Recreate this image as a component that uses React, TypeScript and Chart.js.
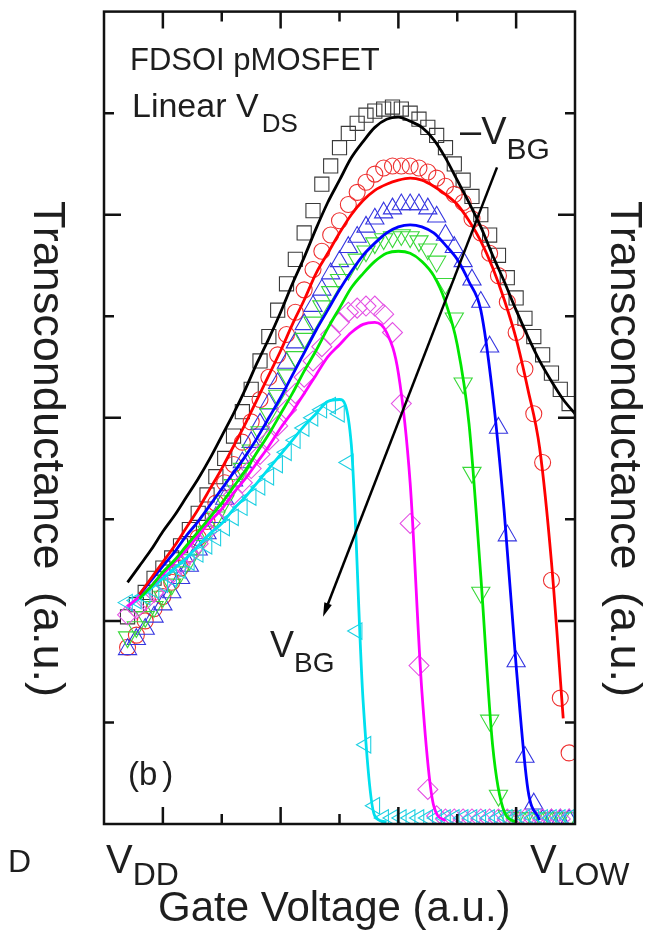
import React, { useEffect, useRef } from 'react';
import { Chart, registerables } from 'chart.js';

Chart.register(...registerables);

// Gate voltage positions (a.u.) of measured points and of model curves
const gateMarkers = [0.40,0.55,0.70,0.85,1.00,1.15,1.30,1.45,1.60,1.75,1.90,2.05,2.20,2.35,2.50,2.65,2.80,2.95,3.10,3.25,3.40,3.55,3.70,3.85,4.00,4.15,4.30,4.45,4.60,4.75,4.90,5.05,5.20,5.35,5.50,5.65,5.80,5.95,6.10,6.25,6.40,6.55,6.70,6.85,7.00,7.15,7.30,7.45,7.60,7.75,7.90];
const gateFit = [0.4,0.6,0.8,1.0,1.2,1.4,1.6,1.8,2.0,2.2,2.4,2.6,2.8,3.0,3.2,3.4,3.6,3.8,4.0,4.2,4.4,4.6,4.8,5.0,5.2,5.4,5.6,5.8,6.0,6.2,6.4,6.6,6.8,7.0,7.2,7.4,7.6,7.8,8.0];

// Measured transconductance (a.u.)
const blackSquares = [1.02,1.08,1.14,1.21,1.26,1.31,1.37,1.45,1.53,1.62,1.71,1.80,1.91,2.03,2.14,2.28,2.40,2.53,2.66,2.78,2.91,3.02,3.15,3.24,3.33,3.40,3.45,3.49,3.51,3.52,3.53,3.52,3.50,3.47,3.43,3.39,3.33,3.25,3.17,3.09,3.00,2.90,2.80,2.69,2.59,2.49,2.40,2.31,2.22,2.14,2.07];
const redCircles = [0.87,0.93,1.00,1.06,1.12,1.19,1.26,1.33,1.41,1.49,1.58,1.68,1.77,1.88,1.98,2.09,2.20,2.31,2.41,2.52,2.63,2.73,2.82,2.90,2.97,3.05,3.11,3.16,3.20,3.23,3.24,3.24,3.24,3.23,3.21,3.18,3.14,3.10,3.06,2.98,2.91,2.81,2.70,2.57,2.42,2.24,2.02,1.78,1.20,0.62,0.35];
const blueTriangles = [0.86,0.91,0.96,1.02,1.08,1.14,1.21,1.27,1.35,1.43,1.51,1.60,1.69,1.78,1.88,1.97,2.07,2.17,2.27,2.37,2.46,2.55,2.63,2.71,2.77,2.84,2.89,2.94,2.98,3.01,3.03,3.05,3.05,3.05,3.03,2.99,2.90,2.84,2.77,2.68,2.57,2.35,1.95,1.42,0.80,0.33,0.10,0.02,0.02,0.02,0.02];
const greenTriangles = [0.92,0.97,1.02,1.07,1.12,1.18,1.24,1.30,1.37,1.44,1.51,1.59,1.67,1.75,1.84,1.93,2.02,2.11,2.21,2.30,2.39,2.47,2.55,2.62,2.68,2.73,2.78,2.82,2.86,2.88,2.89,2.90,2.89,2.87,2.83,2.77,2.66,2.49,2.17,1.73,1.14,0.51,0.14,0.04,0.03,0.03,0.03,0.03,0.03,0.03,0.03];
const magentaDiamonds = [1.03,1.06,1.10,1.14,1.19,1.23,1.28,1.33,1.38,1.44,1.50,1.55,1.62,1.68,1.75,1.82,1.89,1.96,2.04,2.12,2.20,2.28,2.35,2.41,2.47,2.52,2.54,2.55,2.55,2.51,2.42,2.07,1.48,0.78,0.17,0.04,0.025,0.025,0.025,0.025,0.025,0.025,0.025,0.025,0.025,0.025,0.025,0.025,0.025,0.025,0.025];
const cyanTriangles = [1.09,1.10,1.12,1.15,1.18,1.21,1.25,1.29,1.33,1.37,1.41,1.46,1.51,1.56,1.61,1.66,1.71,1.77,1.83,1.89,1.95,2.00,2.04,2.06,2.02,1.78,0.95,0.39,0.09,0.03,0.03,0.03,0.03,0.03,0.03,0.03,0.03,0.03,0.03,0.03,0.03,0.03,0.03,0.03,0.03,0.03,0.03,0.03,0.03,0.03,0.03];

// Model fits (a.u.)
const blackFit = [1.19,1.27,1.35,1.44,1.52,1.61,1.70,1.80,1.91,2.02,2.14,2.27,2.39,2.52,2.66,2.79,2.93,3.06,3.17,3.28,3.36,3.43,3.47,3.48,3.46,3.43,3.37,3.28,3.17,3.06,2.94,2.80,2.67,2.53,2.40,2.28,2.18,2.09,2.02];
const redFit = [null,1.13,1.21,1.29,1.37,1.46,1.55,1.65,1.75,1.86,1.97,2.09,2.21,2.33,2.46,2.58,2.71,2.81,2.91,3.00,3.07,3.12,3.15,3.17,3.18,3.17,3.14,3.10,3.05,2.97,2.87,2.74,2.58,2.39,2.14,1.85,1.29,0.52,null];
const blueFit = [null,1.13,1.20,1.27,1.34,1.42,1.49,1.57,1.65,1.73,1.81,1.90,2.00,2.10,2.21,2.32,2.43,2.53,2.63,2.72,2.80,2.86,2.91,2.94,2.95,2.94,2.91,2.85,2.78,2.67,2.53,2.12,1.53,0.78,0.17,0.02,null,null,null];
const greenFit = [null,1.11,1.17,1.24,1.30,1.37,1.44,1.51,1.58,1.66,1.74,1.83,1.92,2.02,2.12,2.23,2.33,2.44,2.54,2.64,2.71,2.77,2.81,2.82,2.81,2.77,2.70,2.57,2.36,1.97,1.22,0.39,0.06,0.01,null,null,null,null,null];
const magentaFit = [1.07,1.12,1.17,1.23,1.29,1.35,1.42,1.49,1.55,1.63,1.70,1.78,1.86,1.95,2.03,2.12,2.21,2.30,2.36,2.42,2.46,2.47,2.42,2.22,1.68,0.65,0.09,0.015,null,null,null,null,null,null,null,null,null,null,null];
const cyanFit = [1.07,1.11,1.16,1.21,1.26,1.31,1.37,1.43,1.48,1.55,1.61,1.68,1.75,1.82,1.89,1.96,2.02,2.08,2.09,1.87,0.61,0.04,0.01,null,null,null,null,null,null,null,null,null,null,null,null,null,null,null,null];

// Axes
const xRange = [0, 8];
const yRange = [0, 4];
const xMajorTicks = [1, 3, 5, 7];
const xMinorTicks = [2, 4, 6];
const yMajorTicks = [1, 2, 3];
const yMinorTicks = [0.5, 1.5, 2.5, 3.5];
const xTickLabels = [
  { at: 0, main: 'V', sub: 'DD' },
  { at: 8, main: 'V', sub: 'LOW' },
];
// Back-gate arrow (from -VBG towards VBG), in data units
const arrowFrom = [6.675, 3.233];
const arrowTo = [3.72, 1.021];

const FONT = '"Liberation Sans", Arial, Helvetica, sans-serif';
const TEXT = '#1e1e1e';

function pts(xs: number[], ys: (number | null)[]) {
  return xs.map((x, i) => ({ x, y: ys[i] }));
}

function subText(ctx: CanvasRenderingContext2D, x: number, y: number, main: string, sub: string, mainPx: number, subPx: number, drop: number, gap = 0) {
  ctx.font = `${mainPx}px ${FONT}`;
  ctx.fillText(main, x, y);
  const w = ctx.measureText(main).width;
  ctx.font = `${subPx}px ${FONT}`;
  ctx.fillText(sub, x + w + gap, y + drop);
}

const overlay = {
  id: 'overlay',
  afterDatasetsDraw(chart: any) {
    const { ctx, chartArea: a, scales } = chart;
    const xs = scales.x;
    const ys = scales.y;
    ctx.save();

    // arrow
    const x1 = xs.getPixelForValue(arrowFrom[0]);
    const y1 = ys.getPixelForValue(arrowFrom[1]);
    const x2 = xs.getPixelForValue(arrowTo[0]);
    const y2 = ys.getPixelForValue(arrowTo[1]);
    const ang = Math.atan2(y2 - y1, x2 - x1);
    const headLen = 14;
    const headW = 4;
    ctx.strokeStyle = '#000';
    ctx.fillStyle = '#000';
    ctx.lineWidth = 2.5;
    ctx.beginPath();
    ctx.moveTo(x1, y1);
    ctx.lineTo(x2 - Math.cos(ang) * headLen * 0.8, y2 - Math.sin(ang) * headLen * 0.8);
    ctx.stroke();
    ctx.beginPath();
    ctx.moveTo(x2, y2);
    ctx.lineTo(x2 - Math.cos(ang) * headLen + Math.sin(ang) * headW, y2 - Math.sin(ang) * headLen - Math.cos(ang) * headW);
    ctx.lineTo(x2 - Math.cos(ang) * headLen - Math.sin(ang) * headW, y2 - Math.sin(ang) * headLen + Math.cos(ang) * headW);
    ctx.closePath();
    ctx.fill();

    // frame
    ctx.strokeStyle = '#111';
    ctx.lineWidth = 2.5;
    ctx.strokeRect(a.left, a.top, a.right - a.left, a.bottom - a.top);

    // ticks (inside, on all four sides)
    const major = 17;
    const minor = 10;
    ctx.beginPath();
    xMajorTicks.forEach((v) => {
      const p = xs.getPixelForValue(v);
      ctx.moveTo(p, a.bottom); ctx.lineTo(p, a.bottom - major);
      ctx.moveTo(p, a.top); ctx.lineTo(p, a.top + major);
    });
    xMinorTicks.forEach((v) => {
      const p = xs.getPixelForValue(v);
      ctx.moveTo(p, a.bottom); ctx.lineTo(p, a.bottom - minor);
      ctx.moveTo(p, a.top); ctx.lineTo(p, a.top + minor);
    });
    yMajorTicks.forEach((v) => {
      const p = ys.getPixelForValue(v);
      ctx.moveTo(a.left, p); ctx.lineTo(a.left + major, p);
      ctx.moveTo(a.right, p); ctx.lineTo(a.right - major, p);
    });
    yMinorTicks.forEach((v) => {
      const p = ys.getPixelForValue(v);
      ctx.moveTo(a.left, p); ctx.lineTo(a.left + minor, p);
      ctx.moveTo(a.right, p); ctx.lineTo(a.right - minor, p);
    });
    ctx.stroke();

    // texts inside the plot
    ctx.fillStyle = TEXT;
    ctx.textAlign = 'left';
    ctx.textBaseline = 'alphabetic';
    ctx.font = `31px ${FONT}`;
    ctx.fillText('FDSOI pMOSFET', a.left + 26, a.top + 58);
    subText(ctx, a.left + 28, a.top + 105, 'Linear V', 'DS', 34, 26, 15, 3);
    subText(ctx, a.left + 356, a.top + 132, '\u2013V', 'BG', 38, 30, 15);
    subText(ctx, a.left + 166, a.top + 645, 'V', 'BG', 36, 28, 15);
    ctx.font = `33px ${FONT}`;
    ctx.fillText('(b', a.left + 24, a.top + 773);
    const bw = ctx.measureText('(b').width;
    ctx.fillText(')', a.left + 24 + bw + 5, a.top + 773);

    // x tick labels
    xTickLabels.forEach((t, i) => {
      const p = xs.getPixelForValue(t.at);
      const x = i === 0 ? p + 2 : p - 45;
      subText(ctx, x, a.bottom + 49, t.main, t.sub, 40, 32, 12);
    });

    // neighbour panel fragment
    ctx.font = `32px ${FONT}`;
    ctx.fillText('D', 8, a.bottom + 48);

    // axis titles
    ctx.font = `42px ${FONT}`;
    ctx.fillText('Gate Voltage (a.u.)', 158, 921);

    ctx.font = `45px ${FONT}`;
    ctx.textAlign = 'center';
    const yTitle = 'Transconductance\u2002(a.u.)';
    ctx.save();
    ctx.translate(34, 449);
    ctx.rotate(Math.PI / 2);
    ctx.fillText(yTitle, 0, 0);
    ctx.restore();
    ctx.save();
    ctx.translate(611, 449);
    ctx.rotate(Math.PI / 2);
    ctx.fillText(yTitle, 0, 0);
    ctx.restore();

    ctx.restore();
  },
};

export default function App() {
  const ref = useRef<HTMLCanvasElement | null>(null);

  useEffect(() => {
    if (!ref.current) return;
    const markerBase = {
      showLine: false,
      pointBackgroundColor: 'rgba(0,0,0,0)',
      pointBorderWidth: 1.1,
      pointHoverRadius: 0,
      order: 1,
      clip: 0,
    };
    const lineBase = {
      pointRadius: 0,
      borderWidth: 2.8,
      cubicInterpolationMode: 'monotone',
      spanGaps: false,
      fill: false,
      order: 0,
      clip: 0,
    };
    const chart = new Chart(ref.current, {
      type: 'line',
      data: {
        datasets: [
          // markers (first = drawn on top)
          { ...markerBase, label: 'cyan data', data: pts(gateMarkers, cyanTriangles), pointStyle: 'triangle', pointRotation: 270, pointRadius: 9.5, borderColor: '#1fd0e2', pointBorderColor: '#1fd0e2' },
          { ...markerBase, label: 'magenta data', data: pts(gateMarkers, magentaDiamonds), pointStyle: 'rectRot', pointRadius: 10, borderColor: '#e452e4', pointBorderColor: '#e452e4' },
          { ...markerBase, label: 'green data', data: pts(gateMarkers, greenTriangles), pointStyle: 'triangle', pointRotation: 180, pointRadius: 10.5, borderColor: '#3ad83a', pointBorderColor: '#3ad83a' },
          { ...markerBase, label: 'blue data', data: pts(gateMarkers, blueTriangles), pointStyle: 'triangle', pointRadius: 10.5, borderColor: '#3535e0', pointBorderColor: '#3535e0' },
          { ...markerBase, label: 'red data', data: pts(gateMarkers, redCircles), pointStyle: 'circle', pointRadius: 8, borderColor: '#ee3030', pointBorderColor: '#ee3030' },
          { ...markerBase, label: 'black data', data: pts(gateMarkers, blackSquares), pointStyle: 'rect', pointRadius: 10, borderColor: '#3a3a3a', pointBorderColor: '#3a3a3a' },
          // model fits
          { ...lineBase, label: 'black fit', data: pts(gateFit, blackFit), borderColor: '#000000' },
          { ...lineBase, label: 'red fit', data: pts(gateFit, redFit), borderColor: '#ff0000' },
          { ...lineBase, label: 'blue fit', data: pts(gateFit, blueFit), borderColor: '#0000ff' },
          { ...lineBase, label: 'green fit', data: pts(gateFit, greenFit), borderColor: '#00e600' },
          { ...lineBase, label: 'magenta fit', data: pts(gateFit, magentaFit), borderColor: '#ff00ff' },
          { ...lineBase, label: 'cyan fit', data: pts(gateFit, cyanFit), borderColor: '#00e0ee' },
        ] as any,
      },
      options: {
        responsive: false,
        maintainAspectRatio: false,
        devicePixelRatio: 1,
        animation: false,
        events: [],
        layout: { padding: { left: 104, top: 5, right: 77, bottom: 106 } },
        plugins: { legend: { display: false }, tooltip: { enabled: false } },
        scales: {
          x: { type: 'linear', min: xRange[0], max: xRange[1], display: false },
          y: { type: 'linear', min: yRange[0], max: yRange[1], display: false },
        },
      } as any,
      plugins: [overlay],
    });
    return () => chart.destroy();
  }, []);

  return (
    <div style={{ position: 'absolute', left: 0, top: 0, width: 652, height: 930, background: '#fff' }}>
      <canvas ref={ref} width={652} height={930} style={{ display: 'block', width: 652, height: 930 }} />
    </div>
  );
}
